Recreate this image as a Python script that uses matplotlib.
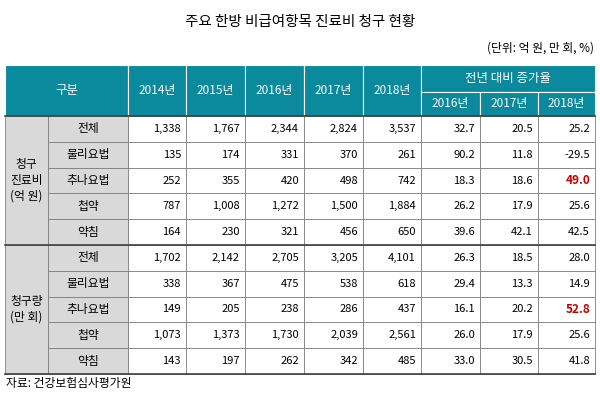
import matplotlib
matplotlib.use("Agg")
import matplotlib.pyplot as plt
from matplotlib.patches import Rectangle
from matplotlib import font_manager as fm
import glob

for f in glob.glob("/usr/share/fonts/**/*CJK*", recursive=True) + glob.glob("/usr/share/fonts/**/*Noto*CJK*", recursive=True):
    try:
        fm.fontManager.addfont(f)
    except Exception:
        pass
names = {f.name for f in fm.fontManager.ttflist}
cands = [n for n in ["Noto Sans CJK KR", "Noto Sans CJK JP", "Noto Sans CJK SC", "Noto Sans CJK TC"] if n in names]
cands += sorted(n for n in names if "CJK" in n)
plt.rcParams["font.family"] = "sans-serif"
plt.rcParams["font.sans-serif"] = cands + ["DejaVu Sans"]

title = "주요 한방 비급여항목 진료비 청구 현황"
unit = "(단위: 억 원, 만 회, %)"
source = "자료: 건강보험심사평가원"
years = ["2014년", "2015년", "2016년", "2017년", "2018년"]
growth_years = ["2016년", "2017년", "2018년"]
groups = ["청구\n진료비\n(억 원)", "청구량\n(만 회)"]
items = ["전체", "물리요법", "추나요법", "첩약", "약침"]
cost_values = [
    ["1,338", "1,767", "2,344", "2,824", "3,537"],
    ["135", "174", "331", "370", "261"],
    ["252", "355", "420", "498", "742"],
    ["787", "1,008", "1,272", "1,500", "1,884"],
    ["164", "230", "321", "456", "650"],
]
cost_growth = [
    ["32.7", "20.5", "25.2"],
    ["90.2", "11.8", "-29.5"],
    ["18.3", "18.6", "49.0"],
    ["26.2", "17.9", "25.6"],
    ["39.6", "42.1", "42.5"],
]
count_values = [
    ["1,702", "2,142", "2,705", "3,205", "4,101"],
    ["338", "367", "475", "538", "618"],
    ["149", "205", "238", "286", "437"],
    ["1,073", "1,373", "1,730", "2,039", "2,561"],
    ["143", "197", "262", "342", "485"],
]
count_growth = [
    ["26.3", "18.5", "28.0"],
    ["29.4", "13.3", "14.9"],
    ["16.1", "20.2", "52.8"],
    ["26.0", "17.9", "25.6"],
    ["33.0", "30.5", "41.8"],
]
highlight = "추나요법"

teal = "#0a8a9c"
gray = "#d9d9d9"
red = "#c00000"

fig = plt.figure(figsize=(6, 4), dpi=100)
ax = fig.add_axes([0, 0, 1, 1])
ax.set_xlim(0, 600)
ax.set_ylim(400, 0)
ax.axis("off")

xs = [5, 48, 128, 186, 245, 304, 363, 421, 480, 538, 595]
ytop, ymid, yh = 65, 92, 116
rh = 25.8

def rect(x0, y0, x1, y1, fc, ec="white", lw=0.8):
    ax.add_patch(Rectangle((x0, y0), x1 - x0, y1 - y0, facecolor=fc, edgecolor=ec, lw=lw))

ax.text(300, 22, title, ha="center", va="center", fontsize=10.5)
ax.text(594, 48, unit, ha="right", va="center", fontsize=8.5)

rect(xs[0], ytop, xs[2], yh, teal)
ax.text((xs[0] + xs[2]) / 2, (ytop + yh) / 2, "구분", ha="center", va="center", color="white", fontsize=9)
for i, yr in enumerate(years):
    rect(xs[2 + i], ytop, xs[3 + i], yh, teal)
    ax.text((xs[2 + i] + xs[3 + i]) / 2, (ytop + yh) / 2, yr, ha="center", va="center", color="white", fontsize=8.5)
rect(xs[7], ytop, xs[10], ymid, teal)
ax.text((xs[7] + xs[10]) / 2, (ytop + ymid) / 2, "전년 대비 증가율", ha="center", va="center", color="white", fontsize=9)
for i, yr in enumerate(growth_years):
    rect(xs[7 + i], ymid, xs[8 + i], yh, teal)
    ax.text((xs[7 + i] + xs[8 + i]) / 2, (ymid + yh) / 2, yr, ha="center", va="center", color="white", fontsize=8.5)

lc = "#7f7f7f"
for g, (vals, grs) in enumerate([(cost_values, cost_growth), (count_values, count_growth)]):
    gy0 = yh + g * 5 * rh
    rect(xs[0], gy0, xs[1], gy0 + 5 * rh, gray, lc, 0.6)
    ax.text((xs[0] + xs[1]) / 2, gy0 + 2.5 * rh, groups[g], ha="center", va="center", fontsize=8.5, linespacing=1.3)
    for r in range(5):
        y0 = gy0 + r * rh
        yc = y0 + rh / 2
        rect(xs[1], y0, xs[2], y0 + rh, gray, lc, 0.6)
        ax.text((xs[1] + xs[2]) / 2, yc, items[r], ha="center", va="center", fontsize=8.5)
        for c in range(5):
            rect(xs[2 + c], y0, xs[3 + c], y0 + rh, "white", lc, 0.6)
            ax.text(xs[3 + c] - 5, yc, vals[r][c], ha="right", va="center", fontsize=8)
        for c in range(3):
            rect(xs[7 + c], y0, xs[8 + c], y0 + rh, "white", lc, 0.6)
            hl = items[r] == highlight and c == 2
            ax.text(xs[8 + c] - 5, yc, grs[r][c], ha="right", va="center", fontsize=8.5 if hl else 8,
                    color=red if hl else "black", fontweight="bold" if hl else "normal")
    ax.plot([xs[0], xs[10]], [gy0, gy0], color="#404040", lw=1.2)
ax.plot([xs[0], xs[10]], [yh + 10 * rh, yh + 10 * rh], color="#404040", lw=1.2)

ax.text(6, 384, source, ha="left", va="center", fontsize=8.5)

fig.savefig("out.png", dpi=100)
